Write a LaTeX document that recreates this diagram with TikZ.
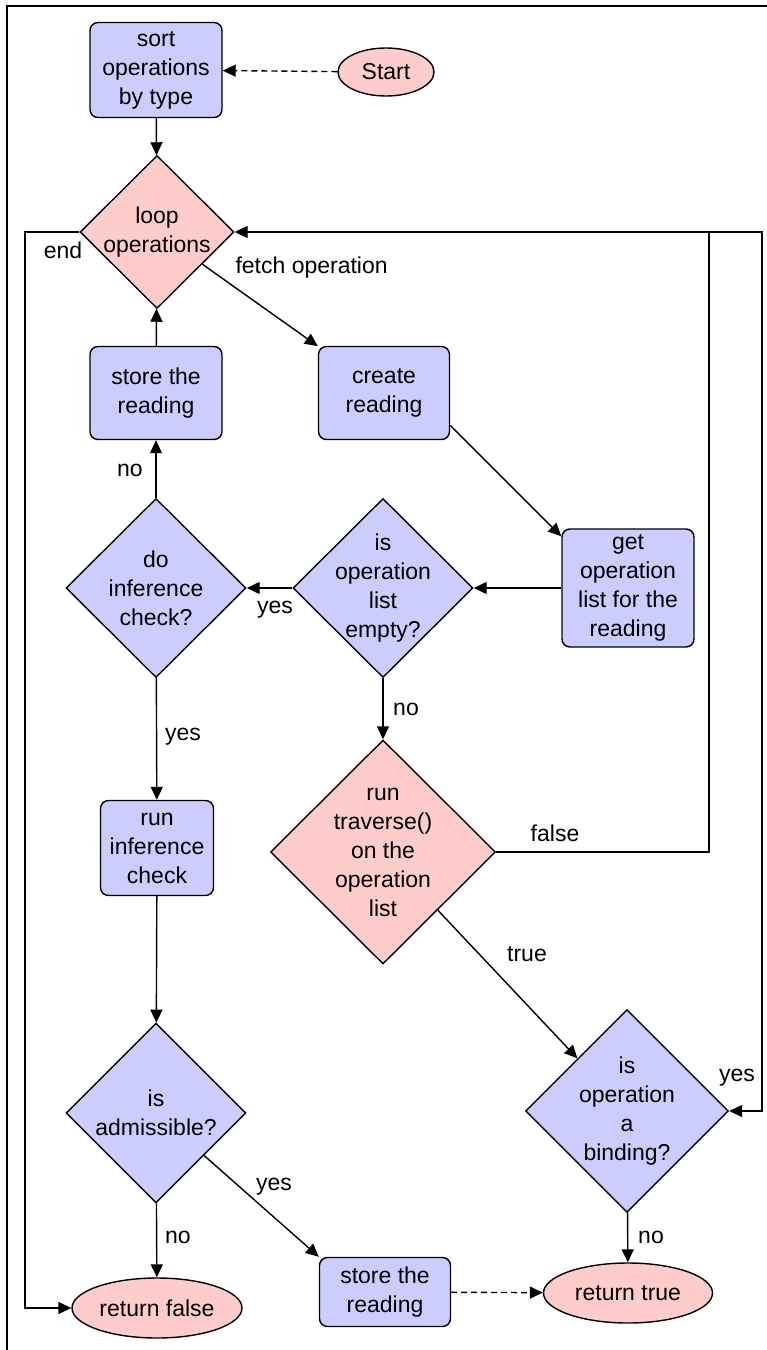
\documentclass[tikz,border=0pt]{standalone}
\usepackage{fontspec}
\setmainfont{Liberation Sans}
\usetikzlibrary{shapes.geometric,arrows.meta}

\definecolor{boxblue}{RGB}{204,204,255}
\definecolor{boxpink}{RGB}{255,204,204}

\tikzset{
  every node/.style={font=\fontsize{23}{29}\selectfont, align=center},
  process/.style={draw, rounded corners=8pt, fill=boxblue, line width=1.4pt, inner sep=2pt},
  decision/.style={draw, diamond, inner sep=0pt, line width=1.4pt},
  terminal/.style={draw, ellipse, fill=boxpink, inner sep=0pt, line width=1.4pt},
  arr/.style={line width=1.4pt, -{Triangle[length=13pt,width=12pt]}},
  darr/.style={arr, dash pattern=on 6pt off 4pt},
}

\begin{document}
\begin{tikzpicture}[x=1pt, y=-1pt]
\useasboundingbox (0,0) rectangle (767,1350);

% frame (only top and left edges are shown)
\draw[line width=1.4pt] (7,1350) -- (7,6) -- (767,6);

% boxes and start/end
\node[process, minimum width=132pt, minimum height=95pt] (sort) at (156,70) {sort\\operations\\by type};
\node[terminal, minimum width=96pt, minimum height=48pt] (start) at (386,72) {Start};
\node[process, minimum width=132pt, minimum height=93pt] (storetop) at (156,393) {store the\\reading};
\node[process, minimum width=131pt, minimum height=93pt] (create) at (384,393) {create\\reading};
\node[process, minimum width=132pt, minimum height=118pt] (getlist) at (628,588) {get\\operation\\list for the\\reading};
\node[process, minimum width=113pt, minimum height=95pt] (runcheck) at (157,848) {run\\inference\\check};
\node[process, minimum width=131pt, minimum height=69pt] (storebot) at (385,1292) {store the\\reading};
\node[terminal, minimum width=170pt, minimum height=60pt] (rfalse) at (157,1308) {return false};
\node[terminal, minimum width=169pt, minimum height=60pt] (rtrue) at (628,1293) {return true};

% decisions (text set as centre label so the diamond keeps its size)
\node[decision, fill=boxpink, minimum width=154pt, minimum height=153pt,
  label={center:loop\\operations}] (loop) at (157,232) {};
\node[decision, fill=boxblue, minimum width=180pt, minimum height=179pt,
  label={center:do\\inference\\check?}] (docheck) at (156,588) {};
\node[decision, fill=boxblue, minimum width=180pt, minimum height=179pt,
  label={center:is\\operation\\list\\empty?}] (empty) at (383,588) {};
\node[decision, fill=boxpink, minimum width=225pt, minimum height=224pt,
  label={center:run\\traverse()\\on the\\operation\\list}] (traverse) at (383,852) {};
\node[decision, fill=boxblue, minimum width=180pt, minimum height=180pt,
  label={center:is\\admissible?}] (admis) at (156,1113) {};
\node[decision, fill=boxblue, minimum width=203pt, minimum height=203pt,
  label={center:is\\operation\\a\\binding?}] (binding) at (627,1111) {};

% corner points of the loops
\coordinate (endc) at (25,232);
\coordinate (falsec) at (709,232);
\coordinate (yesc) at (762,232);

% connectors
\draw[darr] (start) -- (sort);
\draw[arr] (sort) -- (loop);
\draw[arr] (loop) -- (create);
\draw[arr] (create.-26) -- ([yshift=-8pt]getlist.north west);
\draw[arr] (getlist) -- (empty);
\draw[arr] (empty) -- (docheck);
\draw[arr] (docheck) -- (storetop);
\draw[arr] (storetop) -- (loop);
\draw[arr] (docheck) -- (runcheck);
\draw[arr] (runcheck) -- (admis);
\draw[arr] (admis) -- (rfalse);
\draw[arr] (admis) -- (storebot.north west);
\draw[darr] (storebot) -- (rtrue);
\draw[arr] (empty) -- (traverse);
\draw[arr] (traverse) -- (binding);
\draw[arr] (binding) -- (rtrue);
\draw[arr] (loop.west) -- (endc) |- (rfalse.west);
\draw[arr] (traverse.east) -| (falsec) -- (loop.east);
\draw[arr] (falsec) -- (yesc) |- (binding.east);

% connector labels
\node[anchor=west] (lfetch) at (232,268) {fetch operation};
\node (lend) at (63,250) {end};
\node (lyes1) at (275,610) {yes};
\node (lno1) at (130,470) {no};
\node (lyes2) at (183,737) {yes};
\node (lno2) at (406,709) {no};
\node (lfalse) at (555,833) {false};
\node (ltrue) at (527,954) {true};
\node (lyes3) at (737,1078) {yes};
\node (lyes4) at (274,1187) {yes};
\node (lno3) at (178,1237) {no};
\node (lno4) at (651,1237) {no};
\end{tikzpicture}
\end{document}
